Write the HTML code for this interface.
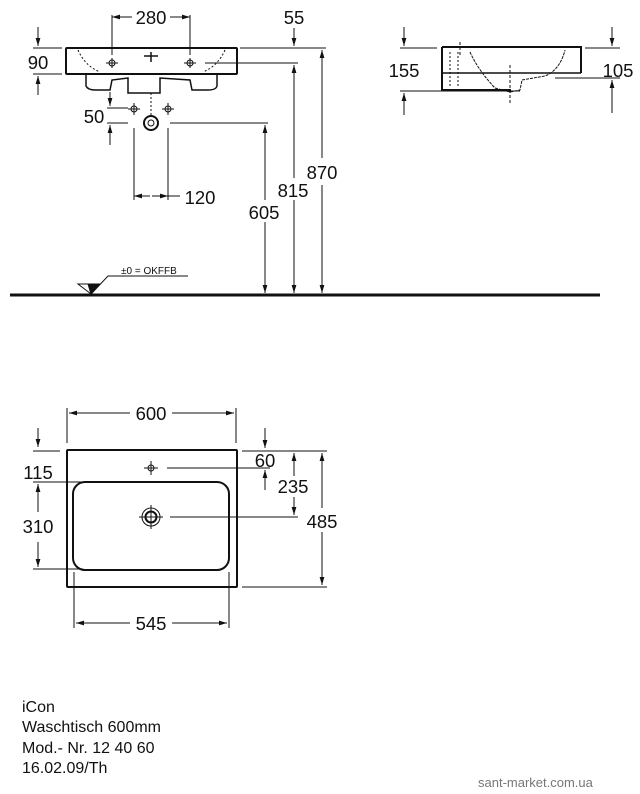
<!DOCTYPE html>
<html><head><meta charset="utf-8"><style>
html,body{margin:0;padding:0;background:#fff;width:640px;height:794px;overflow:hidden}
svg{display:block}
text{font-family:"Liberation Sans",sans-serif;fill:#111}
</style></head><body>
<svg width="640" height="794" viewBox="0 0 640 794" xmlns="http://www.w3.org/2000/svg">
<defs>
<marker id="a" viewBox="0 0 10 10" refX="10" refY="5" markerWidth="8" markerHeight="8" orient="auto-start-reverse"><path d="M0,2 L10,5 L0,8 z" fill="#111"/></marker>
</defs>
<g stroke="#111" stroke-width="1" fill="none">
<rect x="66" y="48" width="171" height="26" stroke-width="2" rx="1"/>
<path d="M78,50 Q85,66 100,72 M225,50 Q218,66 203,72" stroke-dasharray="2,2"/>
<path d="M86,74 L86,86 Q88,90 95,90 L110,90 L112,80 L128,78 L128,93 L160,93 L160,78 L190,80 L192,90 L208,90 Q216,90 217,86 L217,74" stroke-width="1.5"/>
<path d="M144,56 L158,56 M151,52 L151,62" stroke-width="1.5"/>
<circle cx="112" cy="63" r="3"/><circle cx="190" cy="63" r="3"/>
<path d="M106,63 H118 M112,58 V68 M184,63 H196 M190,58 V68"/>
<path d="M112,15 V55 M190,15 V55"/>
<path d="M132,17 H112" marker-end="url(#a)"/><path d="M170,17 H190" marker-end="url(#a)"/>
<path d="M294,28 V46" marker-end="url(#a)"/>
<path d="M240,48 H326 M205,63 H298"/>
<path d="M38,27 V46" marker-end="url(#a)"/><path d="M38,95 V76" marker-end="url(#a)"/>
<path d="M33,48 H62 M33,74 H62"/>
<path d="M110,92 V106" marker-end="url(#a)"/><path d="M110,145 V125" marker-end="url(#a)"/>
<path d="M107,108 H128 M107,123 H128"/>
<circle cx="134" cy="109" r="3"/><circle cx="168" cy="109" r="3"/>
<path d="M128,109 H140 M134,103 V115 M162,109 H174 M168,103 V115"/>
<circle cx="151" cy="123" r="7" stroke-width="2"/><circle cx="151" cy="123" r="3"/>
<path d="M151,93 V116" stroke-dasharray="2,2"/>
<path d="M134,128 V200 M168,128 V200"/>
<path d="M150,196 H134" marker-end="url(#a)"/><path d="M152,196 H168" marker-end="url(#a)"/>
<path d="M168,196 H180"/>
<path d="M170,123 H268"/>
<path d="M265,200 V125" marker-end="url(#a)"/><path d="M265,222 V293" marker-end="url(#a)"/>
<path d="M294,178 V65" marker-end="url(#a)"/><path d="M294,200 V293" marker-end="url(#a)"/>
<path d="M322,158 V50" marker-end="url(#a)"/><path d="M322,185 V293" marker-end="url(#a)"/>
<path d="M10,295 H600" stroke-width="3"/>
<path d="M78,284 H100 L91,294 Z"/>
<path d="M88,284 H100 L91,294 Z" fill="#111"/>
<path d="M91,294 L108,276 H188"/>
<path d="M442,47 H581 V73 M442,47 V90 H511" stroke-width="2"/>
<path d="M442,73 H581" stroke-width="1.5"/>
<path d="M470,52 Q478,70 495,88 L510,92 L520,90 L522,80 L545,76 Q560,70 565,50" stroke-dasharray="3,1"/>
<path d="M450,52 V88 M458,52 V88" stroke-dasharray="2,2"/>
<path d="M510,65 V105 M460,42 V55" stroke-dasharray="3,2"/>
<path d="M404,27 V46" marker-end="url(#a)"/><path d="M404,115 V93" marker-end="url(#a)"/>
<path d="M400,48 H437 M400,91 H520"/>
<path d="M612,27 V46" marker-end="url(#a)"/><path d="M612,113 V80" marker-end="url(#a)"/>
<path d="M585,48 H620 M555,78 H620"/>
<rect x="67" y="450" width="170" height="137" stroke-width="2" rx="1"/>
<rect x="73" y="482" width="156" height="88" rx="12" stroke-width="2"/>
<circle cx="151" cy="468" r="3"/><path d="M144,468 H158 M151,461 V475"/>
<circle cx="151" cy="517" r="9"/><circle cx="151" cy="517" r="5.5" stroke-width="2"/>
<path d="M139,517 H163 M151,505 V529"/>
<path d="M167,468 H270 M170,517 H298"/>
<path d="M67,408 V443 M236,408 V443"/>
<path d="M130,413 H69" marker-end="url(#a)"/><path d="M172,413 H234" marker-end="url(#a)"/>
<path d="M74,572 V628 M229,572 V628"/>
<path d="M130,623 H76" marker-end="url(#a)"/><path d="M172,623 H227" marker-end="url(#a)"/>
<path d="M38,428 V447" marker-end="url(#a)"/>
<path d="M33,451 H60 M33,482 H83 M33,569 H83"/>
<path d="M38,512 V484" marker-end="url(#a)"/><path d="M38,542 V567" marker-end="url(#a)"/>
<path d="M265,428 V448" marker-end="url(#a)"/><path d="M265,490 V470" marker-end="url(#a)"/>
<path d="M242,451 H327 M242,587 H327"/>
<path d="M294,476 V453" marker-end="url(#a)"/><path d="M294,497 V515" marker-end="url(#a)"/>
<path d="M322,508 V453" marker-end="url(#a)"/><path d="M322,532 V585" marker-end="url(#a)"/>
</g>
<g font-size="18.5" text-anchor="middle">
<text x="151" y="24">280</text>
<text x="294" y="24">55</text>
<text x="38" y="69">90</text>
<text x="94" y="123">50</text>
<text x="200" y="204">120</text>
<text x="264" y="219">605</text>
<text x="293" y="197">815</text>
<text x="322" y="179">870</text>
<text x="404" y="77">155</text>
<text x="618" y="77">105</text>
<text x="151" y="420">600</text>
<text x="151" y="630">545</text>
<text x="38" y="479">115</text>
<text x="38" y="533">310</text>
<text x="265" y="467">60</text>
<text x="293" y="493">235</text>
<text x="322" y="528">485</text>
</g>
<text x="121" y="274" font-size="10">±0 = OKFFB</text>
<g font-size="16">
<text x="22" y="712">iCon</text>
<text x="22" y="732">Waschtisch 600mm</text>
<text x="22" y="753">Mod.- Nr. 12 40 60</text>
<text x="22" y="773">16.02.09/Th</text>
</g>
<text x="478" y="787" font-size="13" style="fill:#777">sant-market.com.ua</text>
</svg>
</body></html>
